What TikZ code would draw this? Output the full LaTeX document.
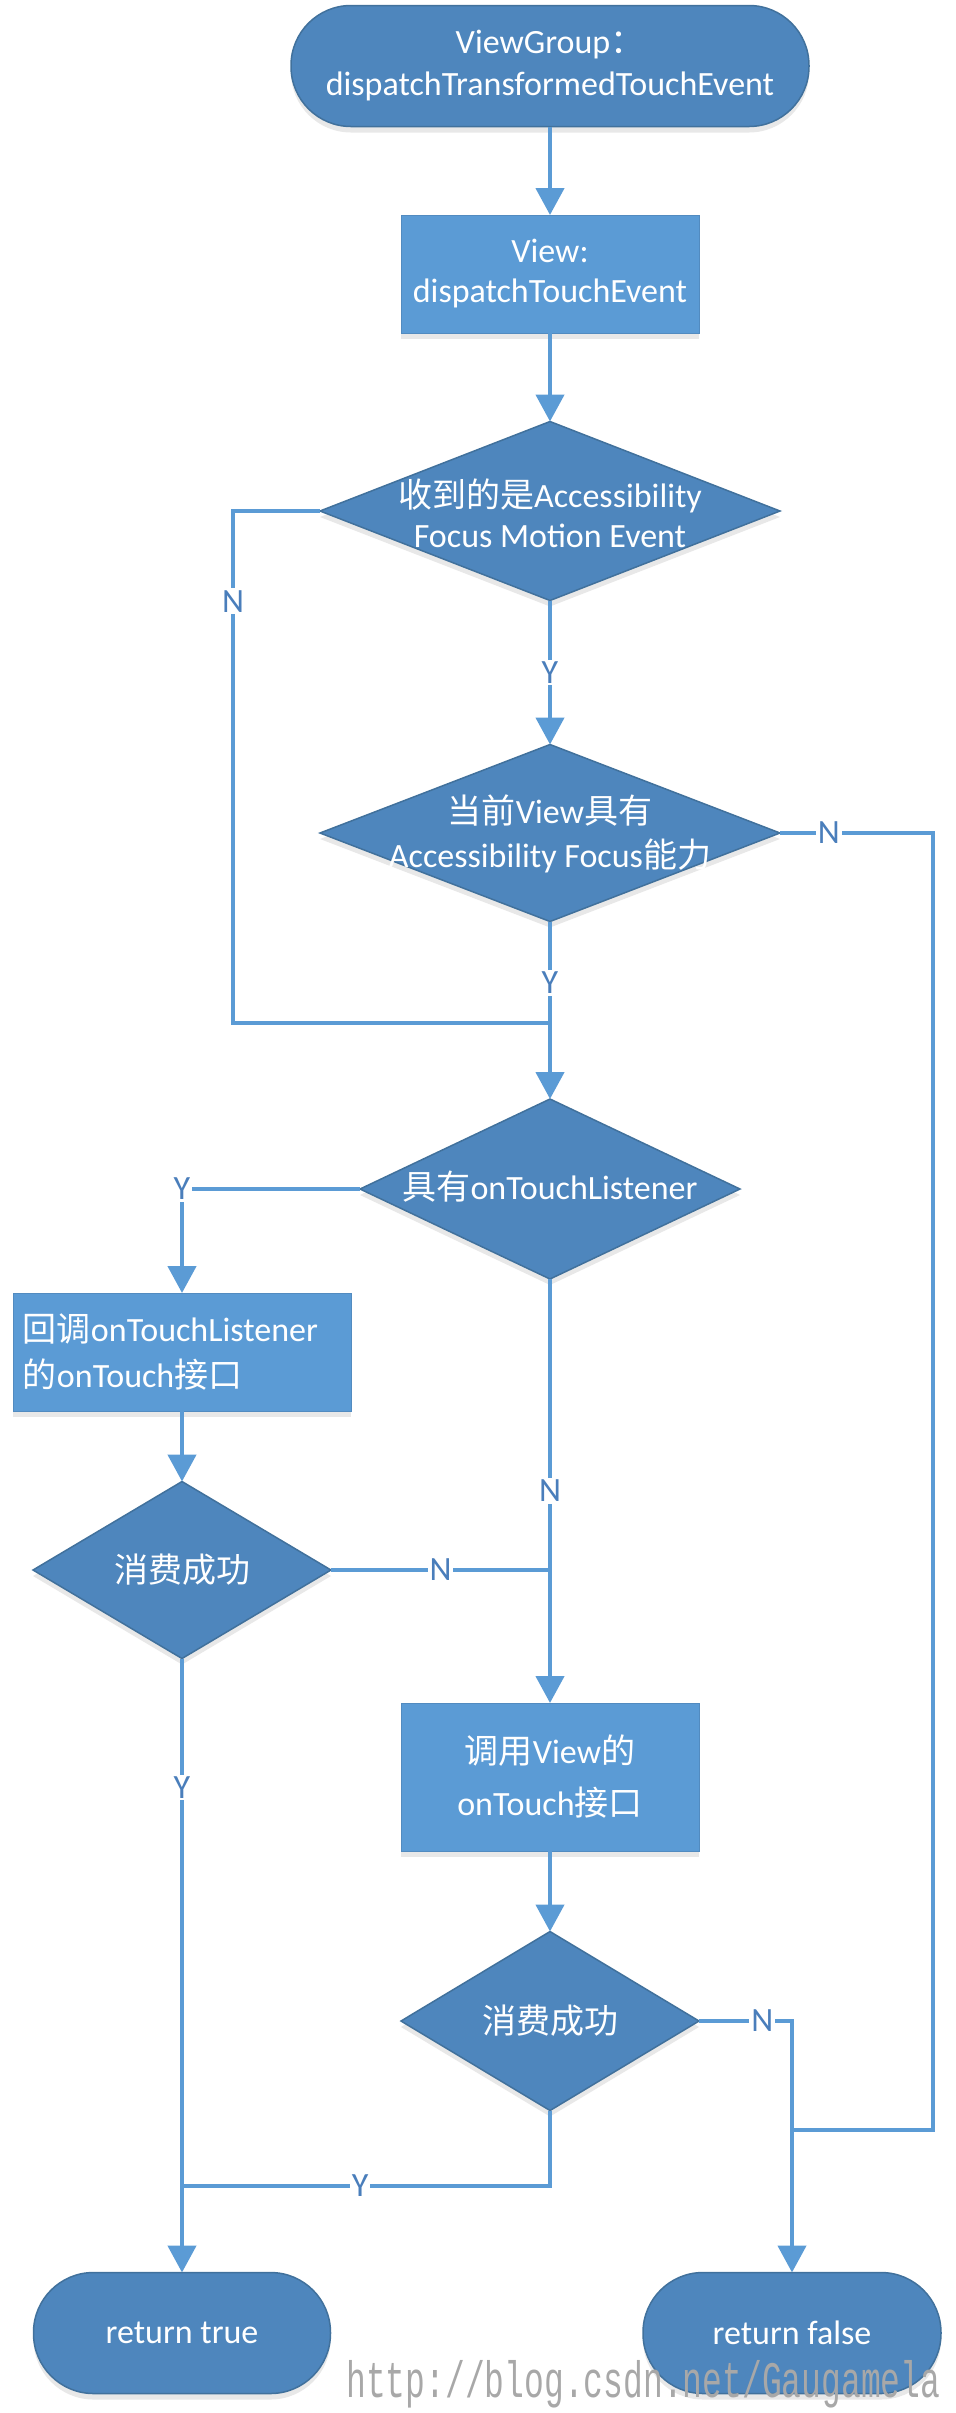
\documentclass[tikz,border=0pt]{standalone}
\usepackage{fontspec}
\setmainfont{Carlito}
\newfontfamily\cjk{Noto Sans CJK SC}
\newfontfamily\wmfont{Liberation Mono}
\newcommand\zh[1]{{\cjk #1}}
\usetikzlibrary{shapes.geometric,arrows.meta,shadows}
\definecolor{darkfill}{HTML}{4E86BD}
\definecolor{lightfill}{HTML}{5B9BD5}
\definecolor{edgeblue}{HTML}{41719C}
\definecolor{linkblue}{HTML}{5B9BD5}
\definecolor{lblblue}{HTML}{4A7EBB}
\definecolor{wmgray}{HTML}{A8A8A8}
\begin{document}
\begin{tikzpicture}[x=1pt,y=-1pt,
  txt/.style={font=\fontsize{34}{40}\selectfont, text=white, align=center, inner sep=0pt},
  shad/.style={drop shadow={opacity=0.18, shadow xshift=0pt, shadow yshift=-6pt}},
  term/.style={txt, shad, draw=edgeblue, line width=1.5pt, fill=darkfill, rounded corners=60pt,
    minimum height=121pt, outer sep=0pt},
  procbox/.style={txt, shad, draw=lightfill!90!black, line width=1pt, fill=lightfill, minimum width=298pt,
    minimum height=118pt, outer sep=0pt},
  dia/.style={shape=diamond, shad, draw=edgeblue, line width=1.5pt, fill=darkfill, inner sep=0pt, outer sep=0pt},
  conn/.style={draw=linkblue, line width=4.5pt},
  arr/.style={conn, -{Triangle[width=28pt,length=27pt]}},
  lbl/.style={fill=white, text=lblblue, font=\fontsize{34}{34}\selectfont, inner sep=2pt},
  wm/.style={text=wmgray, font=\wmfont\fontsize{33}{33}\selectfont, inner sep=0pt}
]
\useasboundingbox (0,0) rectangle (956,2413);

% nodes
\node[term, minimum width=518pt, font=\fontsize{34}{42}\selectfont] (start) at (550,66)
  {ViewGroup\zh{：}\\dispatchTransformedTouchEvent};
\node[procbox] (view) at (550,274) {View:\\dispatchTouchEvent};

\node[dia, minimum width=460pt, minimum height=179pt] (d1) at (550,511) {};
\node[txt] (d1t) at (550,513) {\zh{收到的是}Accessibility\\Focus Motion Event};

\node[dia, minimum width=460pt, minimum height=177pt] (d2) at (550,833) {};
\node[txt, font=\fontsize{34}{44}\selectfont] (d2t) at (550,834) {\zh{当前}View\zh{具有}\\Accessibility Focus\zh{能力}};

\node[dia, minimum width=380pt, minimum height=180pt] (d3) at (550,1189) {};
\node[txt] (d3t) at (550,1187) {\zh{具有}onTouchListener};

\node[procbox, minimum width=338pt, align=left, text width=318pt, inner sep=0pt,
  font=\fontsize{34}{46}\selectfont] (cb) at (182,1352)
  {\zh{回调}onTouchListener\\\zh{的}onTouch\zh{接口}};

\node[dia, minimum width=298pt, minimum height=177pt] (d4) at (182,1570) {};
\node[txt] (d4t) at (182,1570) {\zh{消费成功}};

\node[procbox, minimum height=148pt, font=\fontsize{34}{52}\selectfont] (call) at (550,1777)
  {\zh{调用}View\zh{的}\\onTouch\zh{接口}};

\node[dia, minimum width=298pt, minimum height=179pt] (d5) at (550,2021) {};
\node[txt] (d5t) at (550,2021) {\zh{消费成功}};

\node[term, minimum width=297pt] (rtrue) at (182,2333) {return true};
\node[term, minimum width=298pt] (rfalse) at (792,2333) {return false};

% corner coordinates
\coordinate (c1) at (233,511);
\coordinate (c2) at (233,1023);
\coordinate (m)  at (550,1023);
\coordinate (r1) at (933,833);
\coordinate (r2) at (933,2130);
\coordinate (r3) at (792,2130);
\coordinate (c3) at (182,1189);
\coordinate (j4) at (550,1570);
\coordinate (c5) at (550,2186);
\coordinate (c6) at (182,2186);
\coordinate (c7) at (792,2021);

% connectors
\draw[arr] (start.south) -- (view.north);
\draw[arr] (view.south) -- (d1.north);
\draw[conn] (d1.west) -- (c1) -- node[lbl, pos=0.176] {N} (c2) -- (m);
\draw[arr] (d1.south) -- node[lbl, pos=0.5] {Y} (d2.north);
\draw[arr] (d2.south) -- node[lbl, pos=0.345] {Y} (d3.north);
\draw[conn] (d2.east) -- node[lbl, pos=0.32] {N} (r1) -- (r2) -- (r3);
\draw[arr] (d3.west) -- (c3) -- (cb.north);
\node[lbl] (ly3) at (c3) {Y};
\draw[arr] (cb.south) -- (d4.north);
\draw[conn] (d4.east) -- node[lbl, pos=0.5] {N} (j4);
\draw[arr] (d3.south) -- node[lbl, pos=0.5] {N} (call.north);
\draw[arr] (call.south) -- (d5.north);
\draw[arr] (d4.south) -- node[lbl, pos=0.21] {Y} (rtrue.north);
\draw[conn] (d5.south) -- (c5) -- node[lbl, pos=0.516] {Y} (c6);
\draw[arr] (d5.east) -- node[lbl, pos=0.68] {N} (c7) -- (rfalse.north);

% watermark
\node[wm, anchor=base west] (wmark) at (346,2397)
  {\scalebox{1}[1.55]{http://blog.csdn.net/Gaugamela}};
\end{tikzpicture}
\end{document}
